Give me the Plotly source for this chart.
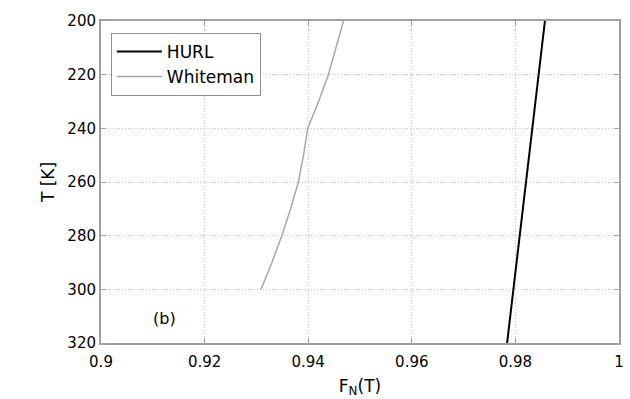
import plotly.graph_objects as go

# Normalised factor F_N(T) against temperature for two models
hurl_T = [320, 300, 280, 260, 240, 220, 200]
hurl_F = [0.9784, 0.9796, 0.9808, 0.9821, 0.9833, 0.9845, 0.9857]

whiteman_T = [300, 290, 280, 270, 260, 250, 240, 230, 220, 210, 200]
whiteman_F = [0.9309, 0.9330, 0.9349, 0.9366, 0.9381, 0.9391, 0.9399,
              0.9420, 0.9439, 0.9454, 0.9468]

x_ticks = [0.9, 0.92, 0.94, 0.96, 0.98, 1.0]
x_tick_text = ["0.9", "0.92", "0.94", "0.96", "0.98", "1"]
y_ticks = [200, 220, 240, 260, 280, 300, 320]

axis_color = "#a0a0a0"
grid_color = "#c8c8c8"
font_family = "DejaVu Sans, sans-serif"

fig = go.Figure()
fig.add_trace(go.Scatter(x=hurl_F, y=hurl_T, mode="lines", name="HURL",
                         line=dict(color="black", width=2)))
fig.add_trace(go.Scatter(x=whiteman_F, y=whiteman_T, mode="lines", name="Whiteman",
                         line=dict(color="#a8a8a8", width=1.5)))

fig.add_annotation(x=0.9122, y=311, text="(b)", showarrow=False,
                   font=dict(size=16, color="black", family=font_family))

fig.update_layout(
    width=630, height=399,
    margin=dict(l=101, r=11, t=21, b=56),
    paper_bgcolor="white", plot_bgcolor="white",
    font=dict(family=font_family, size=15, color="black"),
    showlegend=True,
    legend=dict(x=0.019, y=0.963, xanchor="left", yanchor="top",
                bgcolor="white", bordercolor="#909090", borderwidth=1,
                font=dict(size=17), tracegroupgap=0, itemwidth=45),
    xaxis=dict(range=[0.9, 1.0], tickvals=x_ticks, ticktext=x_tick_text,
               showgrid=True, gridcolor=grid_color, griddash="1px,2px", gridwidth=1,
               showline=True, linecolor=axis_color, linewidth=2, mirror="ticks",
               ticks="inside", ticklen=5, tickcolor=axis_color,
               ticklabelstandoff=4, zeroline=False, automargin=False,
               title=dict(text="F<sub>N</sub>(T)", standoff=10,
                          font=dict(size=17))),
    yaxis=dict(range=[320, 200], tickvals=y_ticks,
               showgrid=True, gridcolor=grid_color, griddash="1px,2px", gridwidth=1,
               showline=True, linecolor=axis_color, linewidth=2, mirror="ticks",
               ticks="inside", ticklen=5, tickcolor=axis_color,
               zeroline=False, automargin=False,
               title=dict(text="T [K]", standoff=8, font=dict(size=17))),
)

fig.write_html("out.html")
